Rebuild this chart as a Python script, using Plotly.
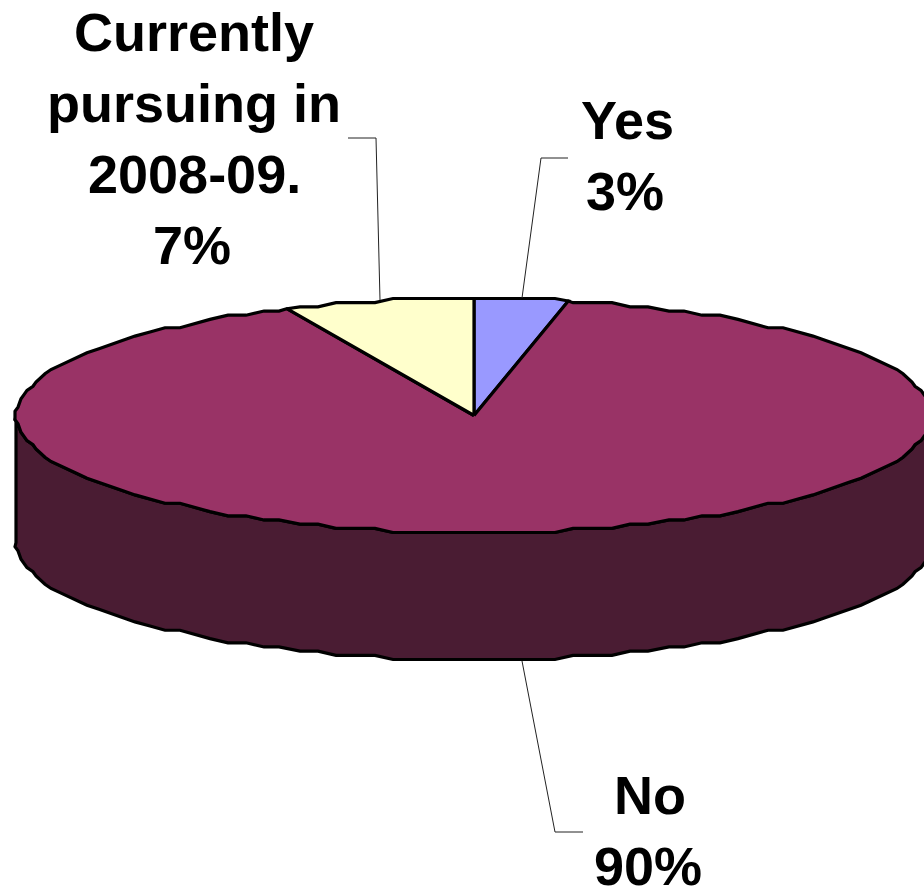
import numpy as np
import plotly.graph_objects as go

# Data
categories = ["Yes", "No", "Currently pursuing in 2008-09."]
values = [3.3, 90.0, 6.7]
label_lines = [["Yes", "3%"], ["No", "90%"], ["Currently", "pursuing in", "2008-09.", "7%"]]

# Style / projection (pie drawn in a pixel-like axis space)
colors = ["#9999FF", "#993366", "#FFFFCC"]
side_color = "#4A1C33"
CX, CY, RX, RY, DEPTH = 474.0, 415.5, 458.0, 117.0, 127.0
GRID_Y = RY / 28
GRID_X = 3.0
STEP = 2.5
label_pos = [(627, 120), (650, 795), (194, 32)]
LAST_LINE_SHIFT = -2.5
LINE_GAP = 71
leaders = [[(522, 298), (541, 158), (568, 158)],
           [(522, 661), (555, 832), (583, 832)],
           [(380, 300), (376, 138), (348, 138)]]


def rim(deg):
    t = np.radians(deg)
    return RX * np.sin(t), RY * np.cos(t)


def arc(a0, a1):
    ds = np.arange(np.ceil(a0 / STEP + 1e-9), np.floor(a1 / STEP - 1e-9) + 1) * STEP
    xs, ys = rim(ds)
    xs = np.round(xs / GRID_X) * GRID_X
    ys = np.round(ys / GRID_Y) * GRID_Y
    x0, y0 = rim(a0)
    x1, y1 = rim(a1)
    xs = np.concatenate([[x0], xs, [x1]])
    ys = np.concatenate([[y0], ys, [y1]])
    return CX + xs, CY - ys


fig = go.Figure()
line = dict(color="black", width=3.2)

# side wall of the visible lower half (belongs to the large slice)
ax, ay = arc(90, 270)
wall_x = np.concatenate([ax, ax[::-1], ax[:1]])
wall_y = np.concatenate([ay, ay[::-1] + DEPTH, ay[:1]])
fig.add_trace(go.Scatter(x=wall_x, y=wall_y, mode="lines", fill="toself",
                         fillcolor=side_color, line=line, hoverinfo="skip"))

# top faces
start = 0.0
for cat, val, col in zip(categories, values, colors):
    sweep = val / sum(values) * 360
    x, y = arc(start, start + sweep)
    fig.add_trace(go.Scatter(x=np.concatenate([[CX], x, [CX]]),
                             y=np.concatenate([[CY], y, [CY]]),
                             mode="lines", fill="toself", fillcolor=col,
                             line=line, name=cat, hoverinfo="name"))
    start += sweep

# leader lines
for pts in leaders:
    fig.add_trace(go.Scatter(x=[p[0] for p in pts], y=[p[1] for p in pts],
                             mode="lines", line=dict(color="#222222", width=1),
                             hoverinfo="skip"))

# labels
annotations = []
for lines, (lx, ly) in zip(label_lines, label_pos):
    for i, txt in enumerate(lines):
        dx = LAST_LINE_SHIFT if i == len(lines) - 1 and len(lines) != 1 else 0
        annotations.append(dict(x=lx + dx, y=ly + i * LINE_GAP, text="<b>" + txt + "</b>",
                                showarrow=False, xref="x", yref="y",
                                xanchor="center", yanchor="middle",
                                font=dict(family="Liberation Sans", size=54, color="black")))

fig.update_layout(
    width=924, height=887, autosize=False,
    margin=dict(l=0, r=0, t=0, b=0),
    paper_bgcolor="white", plot_bgcolor="white",
    showlegend=False,
    xaxis=dict(range=[0, 924], visible=False, fixedrange=True),
    yaxis=dict(range=[887, 0], visible=False, fixedrange=True),
    annotations=annotations,
)
fig.write_html("out.html", config={"displayModeBar": False},
               post_script="document.body.style.margin='0';document.body.style.overflow='hidden';")
